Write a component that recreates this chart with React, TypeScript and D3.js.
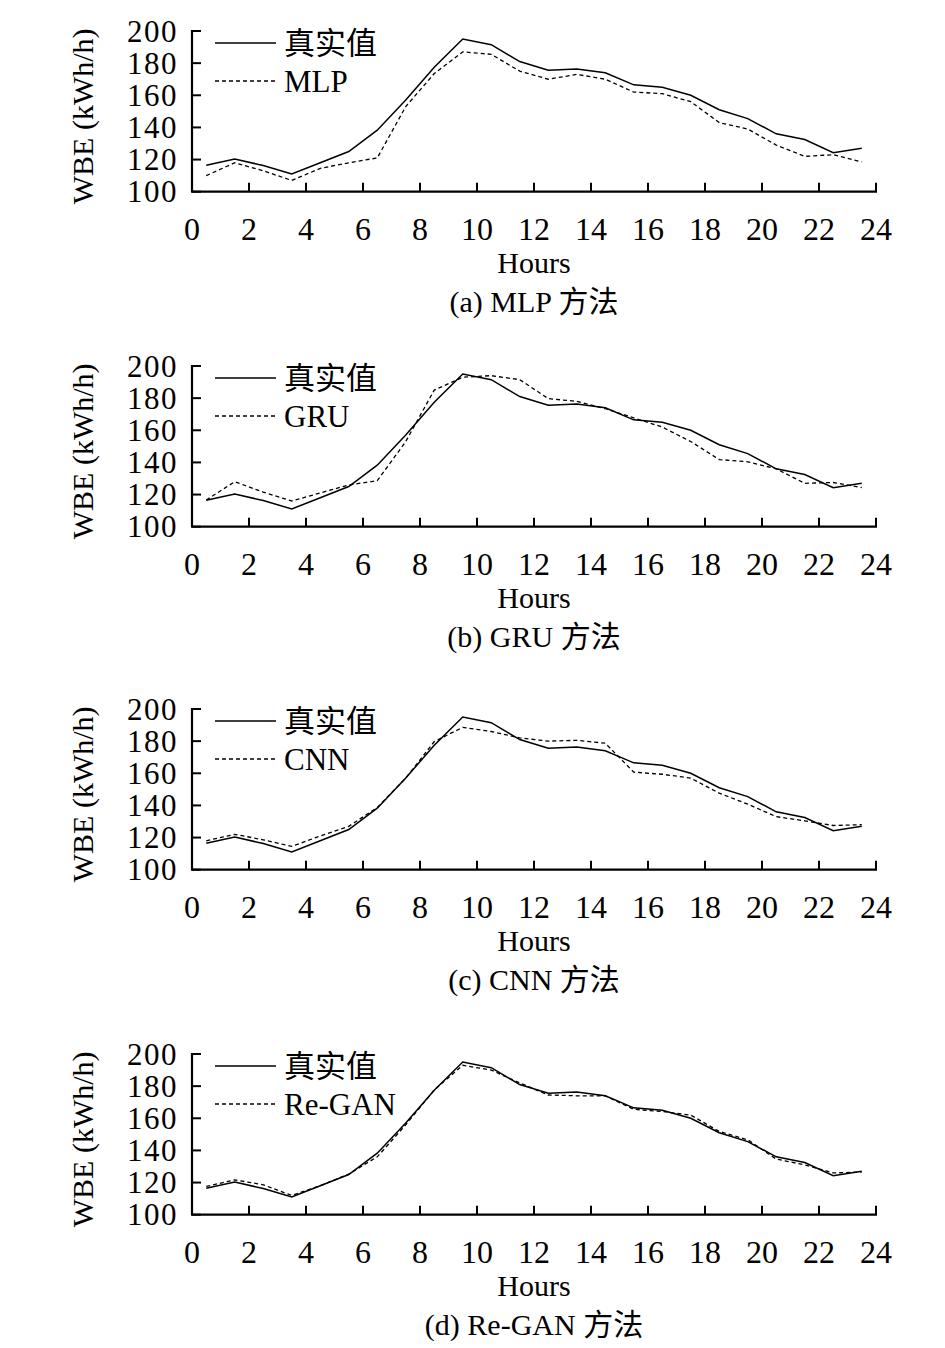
import { useEffect, useRef } from "react";
import * as d3 from "d3";

// Hour midpoints
const hours = [
  0.5, 1.5, 2.5, 3.5, 4.5, 5.5, 6.5, 7.5, 8.5, 9.5, 10.5, 11.5,
  12.5, 13.5, 14.5, 15.5, 16.5, 17.5, 18.5, 19.5, 20.5, 21.5, 22.5, 23.5,
];

// 真实值 (same in every panel)
const actual = [
  116.5, 120.3, 116.3, 111, 118, 125, 138.3, 157, 177.5, 195, 191.5, 181,
  175.6, 176.4, 174, 166.5, 165, 160, 151, 145.5, 136, 132.5, 124.3, 127,
];

const mlp = [
  110, 118, 113, 107, 114.5, 118, 121, 153, 173.5, 187, 185.5, 175,
  170, 173, 170, 162, 161, 156, 143, 139, 129, 122, 123, 118.5,
];

const gru = [
  116.6, 128, 121.5, 116, 121, 126, 128.6, 153, 185, 193, 194, 191.5,
  179.7, 178, 173.5, 167.7, 162, 153, 141.8, 140.4, 136, 127, 127.5, 124.4,
];

const cnn = [
  118, 122, 118.6, 114.5, 121, 127, 138.7, 157, 179.7, 188.6, 186, 182,
  180, 180.5, 178.7, 160.7, 159.4, 157, 147.6, 140.8, 133, 130.4, 127.5, 128,
];

const reGan = [
  117.6, 121.7, 118.6, 112, 118, 125.3, 136, 156, 177.6, 193, 190, 182,
  174.5, 174, 174, 165.6, 164.2, 162, 151.8, 146.6, 134.6, 131, 126, 126.5,
];

const methodNames = ["MLP", "GRU", "CNN", "Re-GAN"];
const captions = ["(a) MLP 方法", "(b) GRU 方法", "(c) CNN 方法", "(d) Re-GAN 方法"];
const predictions = [mlp, gru, cnn, reGan];

const xTicks = [0, 2, 4, 6, 8, 10, 12, 14, 16, 18, 20, 22, 24];
const yTicks = [100, 120, 140, 160, 180, 200];

// Layout
const WIDTH = 945;
const HEIGHT = 1348;
const PANEL_TOPS = [31, 366, 709, 1054];
const PLOT_H = 160.7;
const X0 = 192;
const X1 = 876;
const FONT = "'Liberation Serif', 'Times New Roman', 'Noto Sans CJK SC', serif";

export default function App() {
  const svgRef = useRef<SVGSVGElement>(null);

  useEffect(() => {
    const svgEl = svgRef.current;
    if (!svgEl) return;
    const svg = d3.select(svgEl);
    svg.selectAll("*").remove();

    const x = d3.scaleLinear().domain([0, 24]).range([X0, X1]);

    predictions.forEach((pred, i) => {
      const top = PANEL_TOPS[i];
      const bottom = top + PLOT_H;
      const y = d3.scaleLinear().domain([100, 200]).range([bottom, top]);
      const g = svg.append("g").attr("font-family", FONT).attr("fill", "#000");

      const line = d3
        .line<number>()
        .x((_, j) => x(hours[j]))
        .y((d) => y(d));

      // Series
      g.append("path")
        .datum(actual)
        .attr("fill", "none")
        .attr("stroke", "#000")
        .attr("stroke-width", 1.5)
        .attr("d", line);

      g.append("path")
        .datum(pred)
        .attr("fill", "none")
        .attr("stroke", "#000")
        .attr("stroke-width", 1.3)
        .attr("stroke-dasharray", "4,3")
        .attr("d", line);

      // Axes lines
      g.append("line")
        .attr("x1", X0).attr("x2", X0)
        .attr("y1", top - 1).attr("y2", bottom)
        .attr("stroke", "#000").attr("stroke-width", 2.2);
      g.append("line")
        .attr("x1", X0 - 1).attr("x2", x(24) + 1)
        .attr("y1", bottom).attr("y2", bottom)
        .attr("stroke", "#000").attr("stroke-width", 2.2);

      // Inward ticks
      g.append("g")
        .selectAll("line")
        .data(yTicks)
        .join("line")
        .attr("x1", X0)
        .attr("x2", X0 + 9)
        .attr("y1", (d) => y(d))
        .attr("y2", (d) => y(d))
        .attr("stroke", "#000")
        .attr("stroke-width", 2);

      g.append("g")
        .selectAll("line")
        .data(xTicks.filter((d) => d > 0))
        .join("line")
        .attr("x1", (d) => x(d))
        .attr("x2", (d) => x(d))
        .attr("y1", bottom)
        .attr("y2", bottom - 9)
        .attr("stroke", "#000")
        .attr("stroke-width", 2);

      // Tick labels
      g.append("g")
        .selectAll("text")
        .data(yTicks)
        .join("text")
        .attr("x", X0 - 14)
        .attr("y", (d) => y(d))
        .attr("text-anchor", "end")
        .attr("dominant-baseline", "central")
        .attr("font-size", 31)
        .attr("letter-spacing", 1.5)
        .text((d) => d);

      g.append("g")
        .selectAll("text")
        .data(xTicks)
        .join("text")
        .attr("x", (d) => x(d))
        .attr("y", bottom + 37.5)
        .attr("text-anchor", "middle")
        .attr("dominant-baseline", "central")
        .attr("font-size", 32)
        .text((d) => d);

      // Axis titles
      g.append("text")
        .attr("x", (X0 + X1) / 2)
        .attr("y", bottom + 71)
        .attr("text-anchor", "middle")
        .attr("dominant-baseline", "central")
        .attr("font-size", 30)
        .text("Hours");

      g.append("text")
        .attr("transform", `translate(82,${(top + bottom) / 2 + 5}) rotate(-90)`)
        .attr("text-anchor", "middle")
        .attr("dominant-baseline", "central")
        .attr("font-size", 30)
        .text("WBE (kWh/h)");

      // Caption
      g.append("text")
        .attr("x", (X0 + X1) / 2)
        .attr("y", bottom + 110)
        .attr("text-anchor", "middle")
        .attr("dominant-baseline", "central")
        .attr("font-size", 30)
        .text(captions[i]);

      // Legend
      const legend = [
        { name: "真实值", dash: null as string | null, dy: 12 },
        { name: methodNames[i], dash: "4,3", dy: 50 },
      ];
      const lg = g.append("g");
      legend.forEach((item) => {
        lg.append("line")
          .attr("x1", 215)
          .attr("x2", 276)
          .attr("y1", top + item.dy)
          .attr("y2", top + item.dy)
          .attr("stroke", "#000")
          .attr("stroke-width", 1.5)
          .attr("stroke-dasharray", item.dash);
        lg.append("text")
          .attr("x", 284)
          .attr("y", top + item.dy)
          .attr("dominant-baseline", "central")
          .attr("font-size", 31)
          .text(item.name);
      });
    });
  }, []);

  return (
    <svg
      ref={svgRef}
      width={WIDTH}
      height={HEIGHT}
      style={{ position: "absolute", left: 0, top: 0, background: "#fff" }}
    />
  );
}
